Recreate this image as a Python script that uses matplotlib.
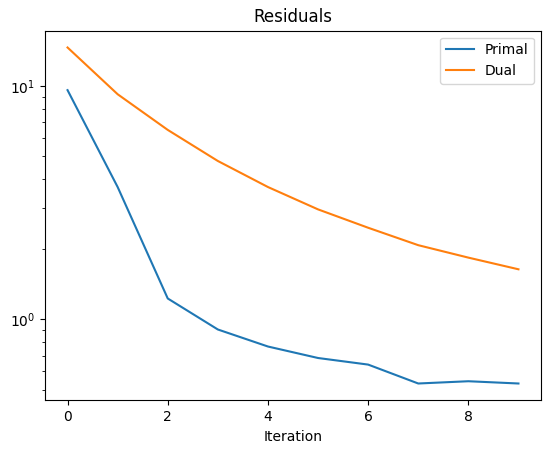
import matplotlib
matplotlib.use('Agg')
import matplotlib.pyplot as plt
import numpy as np

iterations = np.arange(10)
primal = [9.59, 3.69, 1.23, 0.906, 0.766, 0.684, 0.641, 0.532, 0.544, 0.532]
dual = [14.6, 9.21, 6.48, 4.77, 3.69, 2.96, 2.47, 2.08, 1.84, 1.64]

fig = plt.figure(figsize=(5.51, 4.53), dpi=100)
ax = fig.add_axes([45 / 551, (453 - 400.3) / 453, 496 / 551, 369.6 / 453])

ax.plot(iterations, primal, label='Primal')
ax.plot(iterations, dual, label='Dual')
ax.set_yscale('log')
ax.set_xlabel('Iteration')
ax.set_title('Residuals')
ax.legend()

fig.savefig('out.png', dpi=100)
